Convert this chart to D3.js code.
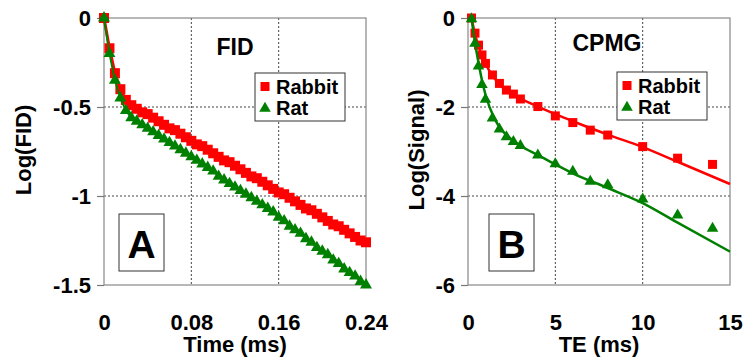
<!DOCTYPE html>
<html>
<head>
<meta charset="utf-8">
<script src="https://cdn.jsdelivr.net/npm/d3@7"></script>
<style>
  body { margin: 0; background: #fff; }
  text { font-family: Arial, "Liberation Sans", sans-serif; font-weight: bold; fill: #000; }
</style>
</head>
<body>
<script>
// panel A: FID
var fidTime = [0,0.005,0.01,0.015,0.02,0.025,0.03,0.035,0.04,0.045,0.05,0.055,0.06,0.065,0.07,0.075,
  0.08,0.085,0.09,0.095,0.1,0.105,0.11,0.115,0.12,0.125,0.13,0.135,0.14,0.145,0.15,0.155,
  0.16,0.165,0.17,0.175,0.18,0.185,0.19,0.195,0.2,0.205,0.21,0.215,0.22,0.225,0.23,0.235,0.24];
var fidRabbit = [0,-0.17,-0.31,-0.4,-0.46,-0.49,-0.51,-0.53,-0.54,-0.56,-0.58,-0.6,-0.62,-0.63,-0.65,-0.67,
  -0.69,-0.71,-0.72,-0.74,-0.76,-0.78,-0.8,-0.81,-0.83,-0.85,-0.87,-0.89,-0.9,-0.92,-0.94,-0.96,
  -0.98,-0.99,-1.01,-1.03,-1.05,-1.07,-1.08,-1.1,-1.12,-1.14,-1.16,-1.17,-1.19,-1.21,-1.23,-1.25,-1.26];
var fidRat = [0,-0.2,-0.35,-0.45,-0.52,-0.56,-0.58,-0.6,-0.62,-0.64,-0.66,-0.68,-0.7,-0.72,-0.74,-0.76,
  -0.78,-0.8,-0.82,-0.84,-0.86,-0.89,-0.91,-0.93,-0.95,-0.97,-0.99,-1.01,-1.03,-1.05,-1.07,-1.09,
  -1.12,-1.14,-1.17,-1.19,-1.21,-1.24,-1.26,-1.29,-1.31,-1.33,-1.36,-1.38,-1.41,-1.43,-1.45,-1.48,-1.5];
var fidXTicks = [0, 0.08, 0.16, 0.24];
var fidYTicks = [0, -0.5, -1, -1.5];

// panel B: CPMG
var cpmgTE = [0.2,0.4,0.6,0.8,1,1.4,1.8,2.2,2.6,3,4,5,6,7,8,10,12,14];
var cpmgRabbit = [0,-0.34,-0.61,-0.83,-1.02,-1.28,-1.47,-1.62,-1.71,-1.82,-1.99,-2.2,-2.35,-2.52,-2.63,-2.89,-3.15,-3.29];
var cpmgRat = [-0.02,-0.57,-1.08,-1.5,-1.83,-2.25,-2.5,-2.67,-2.78,-2.87,-3.08,-3.28,-3.45,-3.67,-3.75,-4.07,-4.43,-4.73];
var fitTE = [0.2,0.4,0.6,0.8,1,1.5,2,2.5,3,4,5,6,8,10,12,15];
var fitRabbit = [0,-0.36,-0.63,-0.85,-1.03,-1.35,-1.57,-1.71,-1.81,-1.99,-2.16,-2.32,-2.62,-2.9,-3.23,-3.73];
var fitRat = [0,-0.55,-1.0,-1.4,-1.72,-2.25,-2.55,-2.73,-2.87,-3.08,-3.29,-3.49,-3.82,-4.16,-4.6,-5.25];
var cpmgXTicks = [0, 5, 10, 15];
var cpmgYTicks = [0, -2, -4, -6];

var seriesNames = ["Rabbit", "Rat"];
var red = "#ff0000", green = "#008000";

var W = 743, H = 360;
var svg = d3.select("body").append("svg")
  .attr("width", W).attr("height", H);
svg.append("rect").attr("width", W).attr("height", H).attr("fill", "#fff");

function zip(xs, ys) {
  return xs.map(function(x, i) { return [x, ys[i]]; });
}

function drawPanel(p) {
  var x = d3.scaleLinear().domain(p.xDomain).range([p.left, p.right]);
  var y = d3.scaleLinear().domain(p.yDomain).range([p.bottom, p.top]);
  var g = svg.append("g");

  // dotted grid
  g.selectAll(".vg").data(p.xTicks.slice(1, -1)).enter().append("line")
    .attr("x1", function(d) { return x(d); }).attr("x2", function(d) { return x(d); })
    .attr("y1", p.top).attr("y2", p.bottom)
    .attr("stroke", "#444").attr("stroke-dasharray", "2,2");
  g.selectAll(".hg").data(p.yTicks.slice(1, -1)).enter().append("line")
    .attr("x1", p.left).attr("x2", p.right)
    .attr("y1", function(d) { return y(d); }).attr("y2", function(d) { return y(d); })
    .attr("stroke", "#444").attr("stroke-dasharray", "2,2");

  g.append("rect")
    .attr("x", p.left).attr("y", p.top)
    .attr("width", p.right - p.left).attr("height", p.bottom - p.top)
    .attr("fill", "none").attr("stroke", "#888").attr("stroke-width", 1.2);

  var yAxis = g.append("g")
    .attr("transform", "translate(" + p.left + ",0)")
    .call(d3.axisLeft(y).tickValues(p.yTicks).tickSize(7).tickPadding(6)
      .tickFormat(function(d) { return String(d); }));
  yAxis.select(".domain").remove();
  yAxis.selectAll("line").attr("stroke", "#777").attr("stroke-width", 1.2);
  yAxis.selectAll("text").attr("font-size", 22).attr("font-family", null).attr("fill", "#000");

  var xAxis = g.append("g")
    .attr("transform", "translate(0," + p.bottom + ")")
    .call(d3.axisBottom(x).tickValues(p.xTicks).tickSize(0).tickPadding(29)
      .tickFormat(function(d) { return String(d); }));
  xAxis.select(".domain").remove();
  xAxis.selectAll("text").attr("font-size", 22).attr("font-family", null).attr("fill", "#000");

  // axis titles
  g.append("text")
    .attr("x", (p.left + p.right) / 2).attr("y", 352)
    .attr("text-anchor", "middle").attr("font-size", 22)
    .text(p.xTitle);
  g.append("text")
    .attr("transform", "translate(" + p.yTitleX + ",150) rotate(-90)")
    .attr("text-anchor", "middle").attr("font-size", 22)
    .text(p.yTitle);

  // series: lines + markers
  var line = d3.line()
    .x(function(d) { return x(d[0]); })
    .y(function(d) { return y(d[1]); })
    .curve(p.curve || d3.curveLinear);
  var sq = d3.symbol().type(d3.symbolSquare).size(p.sqSize);
  var tri = d3.symbol().type(d3.symbolTriangle).size(p.triSize);

  p.series.forEach(function(s) {
    g.append("path")
      .datum(s.line)
      .attr("d", line)
      .attr("fill", "none").attr("stroke", s.color).attr("stroke-width", s.lineWidth);
    g.selectAll(null).data(s.points).enter().append("path")
      .attr("transform", function(d) { return "translate(" + x(d[0]) + "," + y(d[1]) + ")"; })
      .attr("d", s.shape === "square" ? sq : tri)
      .attr("fill", s.color);
  });

  // title
  g.append("text")
    .attr("x", p.titleX).attr("y", p.titleY)
    .attr("text-anchor", "middle").attr("font-size", 23)
    .text(p.title);

  // legend
  var lg = g.append("g").attr("transform", "translate(" + p.legendX + "," + p.legendY + ")");
  lg.append("rect").attr("width", 90).attr("height", 48)
    .attr("fill", "#fff").attr("stroke", "#333").attr("stroke-width", 1);
  p.series.forEach(function(s, i) {
    var cy = 13.5 + i * 21;
    lg.append("path")
      .attr("transform", "translate(10," + (cy + (s.shape === "square" ? 0 : 1)) + ")")
      .attr("d", s.shape === "square" ? d3.symbol().type(d3.symbolSquare).size(81)
                                       : d3.symbol().type(d3.symbolTriangle).size(58))
      .attr("fill", s.color);
    lg.append("text")
      .attr("x", 21).attr("y", cy).attr("dy", "0.36em")
      .attr("font-size", 20)
      .text(seriesNames[i]);
  });

  // panel letter
  g.append("rect")
    .attr("x", p.boxX).attr("y", 214)
    .attr("width", 45).attr("height", 57)
    .attr("fill", "#fff").attr("stroke", "#333").attr("stroke-width", 1);
  g.append("text")
    .attr("x", p.boxX + 22.5).attr("y", 258)
    .attr("text-anchor", "middle").attr("font-size", 39)
    .text(p.letter);
}

drawPanel({
  left: 104, right: 366, top: 18, bottom: 285,
  xDomain: [0, 0.24], yDomain: [-1.5, 0],
  xTicks: fidXTicks, yTicks: fidYTicks,
  xTitle: "Time (ms)", yTitle: "Log(FID)", yTitleX: 31,
  title: "FID", titleX: 235, titleY: 55,
  legendX: 255, legendY: 73,
  boxX: 119, letter: "A",
  sqSize: 100, triSize: 62,
  series: [
    { color: red, shape: "square", lineWidth: 3, points: zip(fidTime, fidRabbit), line: zip(fidTime, fidRabbit) },
    { color: green, shape: "triangle", lineWidth: 2, points: zip(fidTime, fidRat), line: zip(fidTime, fidRat) }
  ]
});

drawPanel({
  left: 468, right: 730, top: 18, bottom: 285,
  xDomain: [0, 15], yDomain: [-6, 0],
  xTicks: cpmgXTicks, yTicks: cpmgYTicks,
  xTitle: "TE (ms)", yTitle: "Log(Signal)", yTitleX: 424,
  title: "CPMG", titleX: 607, titleY: 51,
  legendX: 617, legendY: 72,
  boxX: 489, letter: "B",
  sqSize: 81, triSize: 58,
  curve: d3.curveMonotoneX,
  series: [
    { color: red, shape: "square", lineWidth: 2.5, points: zip(cpmgTE, cpmgRabbit), line: zip(fitTE, fitRabbit) },
    { color: green, shape: "triangle", lineWidth: 2.5, points: zip(cpmgTE, cpmgRat), line: zip(fitTE, fitRat) }
  ]
});
</script>
</body>
</html>
